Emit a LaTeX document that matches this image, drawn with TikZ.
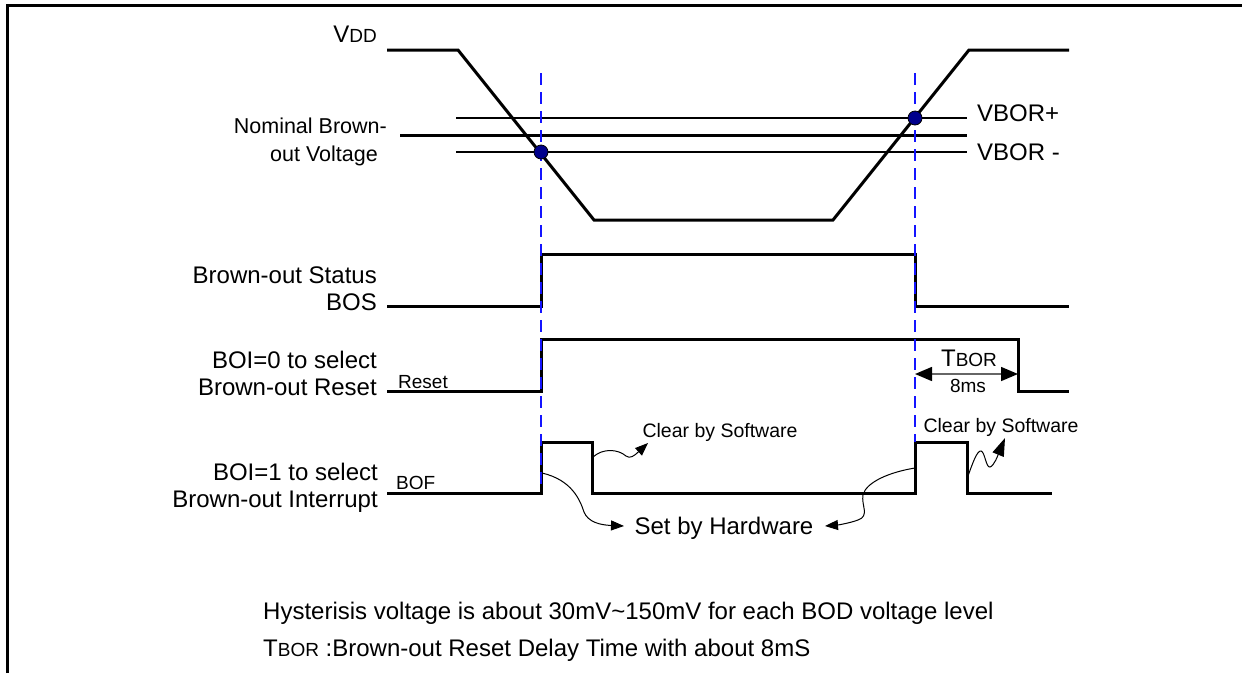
\documentclass[tikz,border=0pt]{standalone}
\usepackage{fontspec}
\setmainfont{Liberation Sans}
\usetikzlibrary{arrows.meta}
\newcommand{\mainsz}{\fontsize{24}{28}\selectfont}
\newcommand{\nomsz}{\fontsize{21.5}{26}\selectfont}
\newcommand{\smsz}{\fontsize{19}{22}\selectfont}
\newcommand{\clsz}{\fontsize{19.5}{22}\selectfont}
\definecolor{dotblue}{RGB}{0,0,140}
\definecolor{guideblue}{RGB}{20,20,255}
\begin{document}
\begin{tikzpicture}[x=1pt,y=-1pt,
  wave/.style={line width=3pt, line join=miter},
  hair/.style={line width=1.2pt},
  lbl/.style={inner sep=0pt, font=\mainsz},
  nomlbl/.style={inner sep=0pt, font=\nomsz},
  sml/.style={inner sep=0pt, font=\smsz},
  cls/.style={inner sep=0pt, font=\clsz},
  guide/.style={guideblue, line width=1.5pt, dash pattern=on 12pt off 7pt},
  dotmark/.style={circle, draw=black, fill=dotblue, minimum size=14pt, inner sep=0pt, line width=0.8pt},
  curvy/.style={line width=1pt, -{Triangle[length=13pt,width=10pt]}},
  curvybig/.style={line width=1pt, -{Triangle[length=18pt,width=12pt]}}
]
\useasboundingbox (0,0) rectangle (1242,673);
% frame
\draw[line width=3pt] (7,673) -- (7,5) -- (1242,5);

% VDD waveform and levels
\draw[wave] (387,50) -- (458,50) -- (594,220) -- (833,220) -- (969,50) -- (1069,50);
\draw[line width=3pt] (400,135) -- (967,135);
\draw[hair] (456,118) -- (967,118);
\draw[hair] (456,152) -- (967,152);

% digital waveforms
\draw[wave] (387,306) -- (541,306) -- (541,254) -- (915,254) -- (915,306) -- (1069,306);
\draw[wave] (387,391) -- (541,391) -- (541,339) -- (1018,339) -- (1018,391) -- (1069,391);
\draw[wave] (387,493) -- (541,493) -- (541,442) -- (592,442) -- (592,493) -- (915,493) -- (915,442) -- (967,442) -- (967,493) -- (1052,493);

% guides
\draw[guide] (541,73) -- (541,485);
\draw[guide] (915,73) -- (915,442);

% dots
\node[dotmark] (d1) at (541,152) {};
\node[dotmark] (d2) at (915,118) {};

% labels
\node[lbl, anchor=base east] (vdd) at (377,42) {V{\smsz DD}};
\node[nomlbl, anchor=base east] (nom1) at (387,133) {Nominal Brown-};
\node[nomlbl, anchor=base east] (nom2) at (378,161) {out Voltage};
\node[lbl, anchor=base west] (vborp) at (977,121) {VBOR+};
\node[lbl, anchor=base west] (vborm) at (977,160) {VBOR -};
\node[lbl, anchor=base east] (bos1) at (377,283) {Brown-out Status};
\node[lbl, anchor=base east] (bos2) at (377,310) {BOS};
\node[lbl, anchor=base east] (r1) at (377,368) {BOI=0 to select};
\node[lbl, anchor=base east] (r2) at (377,395) {Brown-out Reset};
\node[sml, anchor=base west] (rst) at (398,388) {Reset};
\node[lbl, anchor=base east] (i1) at (378,480) {BOI=1 to select};
\node[lbl, anchor=base east] (i2) at (378,507) {Brown-out Interrupt};
\node[sml, anchor=base west] (bof) at (396,489) {BOF};
\node[lbl, anchor=base] (tbor) at (969,366) {T{\smsz BOR}};
\node[sml, anchor=base] (ms) at (968,392) {8ms};
\node[cls, anchor=base] (cs1) at (720,437) {Clear by Software};
\node[cls, anchor=base] (cs2) at (1001,432) {Clear by Software};
\node[lbl, anchor=base] (sh) at (724,534) {Set by Hardware};
\node[lbl, anchor=base west] (n1) at (263,619) {Hysterisis voltage is about 30mV\textasciitilde150mV for each BOD voltage level};
\node[lbl, anchor=base west] (n2) at (263,656) {T{\smsz BOR} :Brown-out Reset Delay Time with about 8mS};

% TBOR dimension
\coordinate (tA) at (915,374);
\coordinate (tB) at (1018,374);
\draw[line width=1.5pt, black!60, {Triangle[length=17pt,width=14pt,color=black]}-{Triangle[length=17pt,width=14pt,color=black]}] (tA) -- (tB);

% annotation arrows
\coordinate (c1s) at (593,457);
\coordinate (c1t) at (648,443);
\draw[curvy] (c1s) .. controls (603,448) and (618,449) .. (626,456) .. controls (630,459) and (634,456) .. (c1t);
\coordinate (h1s) at (542,473);
\coordinate (h1t) at (624,526);
\draw[curvy] (h1s) .. controls (572,480) and (580,500) .. (584,512) .. controls (588,522) and (600,525) .. (h1t);
\coordinate (h2s) at (915,468);
\coordinate (h2t) at (825,526);
\draw[curvy] (h2s) .. controls (890,472) and (866,482) .. (863,495) .. controls (861,505) and (870,516) .. (858,520) .. controls (850,523) and (838,525) .. (h2t);
\coordinate (c2s) at (968,476);
\coordinate (c2t) at (1005,438);
\draw[curvybig] (c2s) .. controls (972,465) and (977,450) .. (981,451) .. controls (985,452) and (986,468) .. (990,467) .. controls (994,466) and (998,455) .. (c2t);
\end{tikzpicture}
\end{document}
